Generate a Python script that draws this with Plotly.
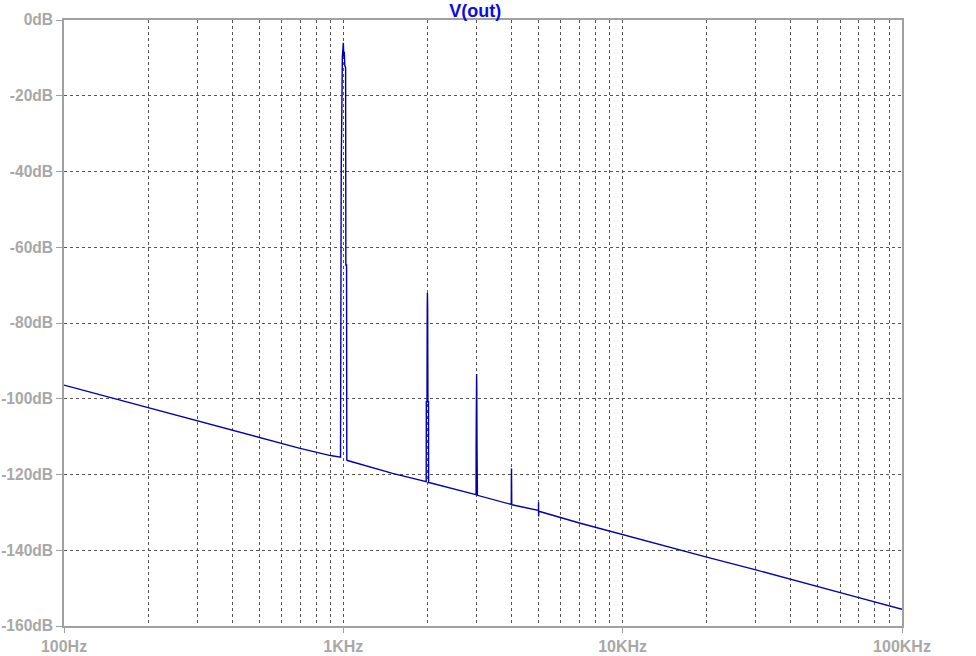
import plotly.graph_objects as go

# Noise-floor samples (Hz, dB)
baseline_freq = [100, 200, 300, 500, 700, 900, 970, 1035, 1500, 1975, 2025, 2980, 3020, 3985, 4015, 4990, 5010, 7000, 10000, 20000, 30000, 50000, 70000, 100000]
baseline_db = [-96.4, -102.3, -105.8, -110.2, -113.1, -115.0, -115.4, -116.3, -119.7, -121.9, -122.1, -125.3, -125.5, -127.9, -128.0, -129.6, -129.7, -132.8, -135.9, -141.8, -145.2, -149.7, -152.5, -155.6]

# Harmonic spikes (Hz, dB)
h1_freq = [977, 979, 983, 992, 1000, 1004, 1008, 1012, 1019, 1021, 1027, 1029]
h1_db = [-115.4, -89.8, -38.7, -9.7, -6.0, -9.5, -8.4, -12.1, -12.5, -64.7, -64.7, -116.2]

h2_freq = [1980, 1982, 1993, 1997, 2000, 2004, 2008, 2018, 2020]
h2_db = [-121.9, -100.8, -100.8, -76.0, -72.0, -76.0, -100.8, -100.8, -122.1]

h3_freq = [2986, 2988, 2995, 3000, 3004, 3010, 3012]
h3_db = [-125.3, -112.7, -97.0, -93.5, -97.0, -112.7, -125.5]

h4_freq = [3992, 3995, 4000, 4005, 4008]
h4_db = [-127.9, -121.5, -118.4, -121.5, -128.0]

h5_freq = [4995, 4998, 5000, 5003]
h5_db = [-129.5, -127.3, -131.1, -129.6]

x_major = [100, 1000, 10000, 100000]
x_major_text = ["100Hz", "1KHz", "10KHz", "100KHz"]
y_ticks = [0, -20, -40, -60, -80, -100, -120, -140, -160]
y_tick_text = ["0dB", "-20dB", "-40dB", "-60dB", "-80dB", "-100dB", "-120dB", "-140dB", "-160dB"]
x_minor = [m * d for d in (100, 1000, 10000) for m in range(2, 10)]

pts = list(zip(baseline_freq, baseline_db))
for fs, ds in ((h1_freq, h1_db), (h2_freq, h2_db), (h3_freq, h3_db), (h4_freq, h4_db), (h5_freq, h5_db)):
    pts += list(zip(fs, ds))
pts.sort(key=lambda p: p[0])
xs = [p[0] for p in pts]
ys = [p[1] for p in pts]

AX = "#a0a0a0"
GRID = "#555555"
XFONT = dict(family="Liberation Sans, Arial, sans-serif", size=16, color="#a8a8a8", weight="bold")
YFONT = dict(family="Liberation Sans, Arial, sans-serif", size=15.6, color="#a8a8a8", weight="bold")

fig = go.Figure()
fig.add_trace(go.Scatter(x=xs, y=ys, mode="lines",
                         line=dict(color="#0000b0", width=1.4), hoverinfo="skip"))

fig.update_layout(
    width=976, height=656,
    margin=dict(l=64, r=74, t=20, b=30),
    paper_bgcolor="white", plot_bgcolor="white",
    showlegend=False,
    title=dict(text="V(out)", x=479 / 976, xref="paper", xanchor="center",
               y=1 - 10.5 / 656, yref="container", yanchor="middle",
               font=dict(family="Liberation Sans, Arial, sans-serif", size=18, color="#0a0aee", weight="bold")),
    xaxis=dict(type="log", range=[2, 5], tickvals=x_major, ticktext=x_major_text,
               automargin=False,
               showgrid=True, gridcolor=GRID, griddash="3px,3px", gridwidth=1,
               showline=True, linecolor=AX, linewidth=1.5, mirror=True,
               ticks="outside", ticklen=5, tickcolor=AX, tickfont=XFONT,
               zeroline=False,
               minor=dict(tickvals=x_minor, showgrid=True, gridcolor=GRID,
                          griddash="3px,3px", gridwidth=1, ticks="")),
    yaxis=dict(range=[-160, 0], tickvals=y_ticks, ticktext=y_tick_text,
               automargin=False,
               showgrid=True, gridcolor=GRID, griddash="3px,3px", gridwidth=1,
               showline=True, linecolor=AX, linewidth=1.5, mirror=True,
               ticks="outside", ticklen=6, tickcolor=AX, tickfont=YFONT,
               ticklabelstandoff=0,
               zeroline=False),
)

fig.write_html("out.html", config={"displayModeBar": False},
               post_script="document.body.style.margin='0';document.body.style.overflow='hidden';")
